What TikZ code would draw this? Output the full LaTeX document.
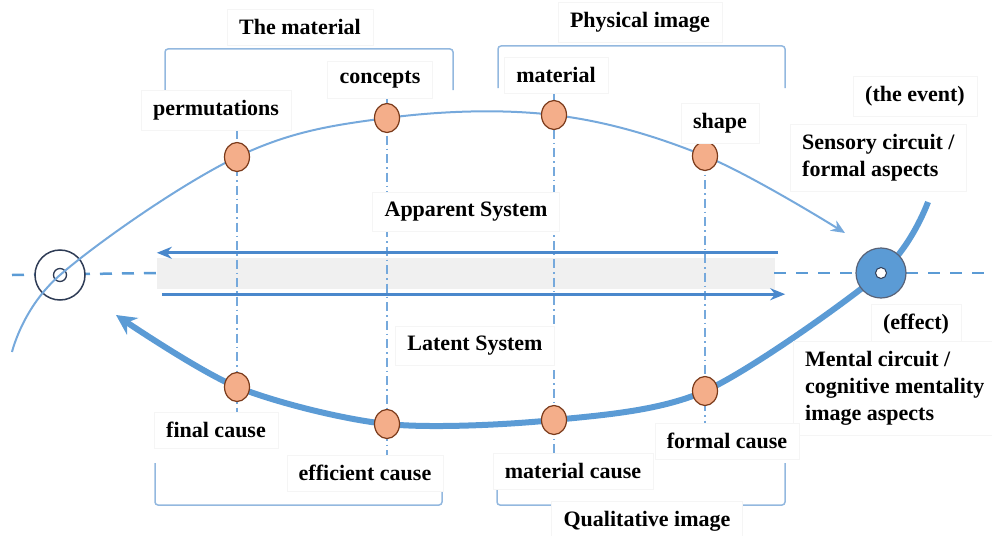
\documentclass[tikz,border=0pt]{standalone}
\usepackage{fontspec}
\setmainfont{Liberation Serif}
\usepackage{tikz}
\usetikzlibrary{calc,arrows.meta,shapes.geometric}
\usepackage{xcolor}

\definecolor{axisblue}{HTML}{5B9BD5}
\definecolor{arrowblue}{HTML}{4A88CC}
\definecolor{thinblue}{HTML}{76A9DC}
\definecolor{braceblue}{HTML}{93B8DF}
\definecolor{navy}{HTML}{2E3B55}
\definecolor{dotfill}{HTML}{F4AE8A}
\definecolor{dotline}{HTML}{7A3A1A}
\definecolor{barfill}{HTML}{F0F0F0}

\pgfdeclarelayer{bg}
\pgfsetlayers{bg,main}

\tikzset{
	lbl/.style={draw=black!4, fill=white, font=\bfseries\fontsize{22}{27}\selectfont, inner xsep=12pt, inner ysep=10pt},
	cause/.style={ellipse, draw=dotline, line width=1.2pt, fill=dotfill, minimum width=25pt, minimum height=29pt, inner sep=0pt},
	guide/.style={thinblue, line width=1.3pt, dash pattern=on 9pt off 4pt on 1.5pt off 4pt},
	brace/.style={braceblue, line width=1.5pt, rounded corners=3pt},
}

\begin{document}
\begin{tikzpicture}[x=1pt,y=-1pt]
	\useasboundingbox (0,0) rectangle (992,535);
	
	% points on the two circuits
	\node[cause] (t1) at (237,157) {};
	\node[cause] (t2) at (387,118) {};
	\node[cause] (t3) at (554,115) {};
	\node[cause] (t4) at (705,156) {};
	\node[cause] (b1) at (237,387) {};
	\node[cause] (b2) at (387,424) {};
	\node[cause] (b3) at (554,420) {};
	\node[cause] (b4) at (705,391) {};
	
	% the effect
	\node[circle, draw=navy!80, line width=1.2pt, fill=axisblue, minimum size=50pt, inner sep=0pt] (rcirc) at (881,273) {};
	\node[circle, draw=navy, line width=1pt, fill=white, minimum size=11pt, inner sep=0pt] (rdot) at (rcirc) {};
	
	% labels
	\node[lbl] (lmat) at (300,27) {The material};
	\node[lbl] (lphys) at (640,22) {Physical image};
	\node[lbl] (lperm) at (216,110) {permutations};
	\node[lbl] (lconc) at (380,80) {concepts};
	\node[lbl] (lmatl) at (556,75) {material};
	\node[lbl] (lshape) at (720,123) {shape};
	\node[lbl] (levent) at (915,96) {(the event)};
	\node[lbl, anchor=west, align=left] (lsens) at (790,158) {Sensory circuit /\\formal aspects};
	\node[lbl] (lapp) at (466,212) {Apparent System};
	\node[lbl] (llat) at (475,346) {Latent System};
	\node[lbl] (leff) at (916,324) {(effect)};
	\node[lbl, anchor=west, align=left] (lment) at (793,388) {Mental circuit /\\cognitive mentality\\image aspects};
	\node[lbl] (lfinal) at (216,430) {final cause};
	\node[lbl] (leffic) at (365,473) {efficient cause};
	\node[lbl] (lmc) at (573,471) {material cause};
	\node[lbl] (lform) at (727,441) {formal cause};
	\node[lbl] (lqual) at (647,521) {Qualitative image};
	
	\begin{pgfonlayer}{bg}
		% middle bar and axis
		\node[draw=black!6, fill=barfill, minimum width=617pt, minimum height=30pt, inner sep=0pt] (bar) at (465.5,273) {};
		\coordinate (axl) at (12,275);
		\coordinate (axr) at (990,273);
		\draw[axisblue, line width=2.5pt, dash pattern=on 12pt off 10pt] (axl) -- (bar.west);
		\draw[axisblue, line width=2.5pt, dash pattern=on 12pt off 10pt] (bar.east) -- (axr);
		
		% the event
		\node[circle, draw=navy, line width=1.5pt, fill=white, minimum size=50pt, inner sep=0pt] (lcirc) at (60,275) {};
		\node[circle, draw=navy, line width=1.3pt, fill=white, minimum size=13pt, inner sep=0pt] (ldot) at (lcirc) {};
		
		% vertical guides
		\draw[guide] (t1 |- lperm.south) -- (t1 |- lfinal.north);
		\draw[guide] (t2 |- lconc.south) -- (t2 |- leffic.north);
		\draw[guide] (t3 |- lmatl.south) -- (t3 |- lmc.north);
		\draw[guide] (t4 |- lshape.south) -- (t4 |- lform.north);
		
		% brackets
		\draw[brace] (165,90) -- (165,49) -- (453,49) -- (453,90);
		\draw[brace] (498,88) -- (498,46) -- (785,46) -- (785,88);
		\draw[brace] (155,463) -- (155,505) -- (442,505) -- (442,463);
		\draw[brace] (497,463) -- (497,505) -- (785,505) -- (785,463);
		
		% sensory circuit (upper)
		\coordinate (ts) at (12,352);
		\coordinate (te) at (845,233);
		\draw[thinblue, line width=2pt, -{Stealth[length=14pt,width=12pt]}] plot[smooth, tension=0.6] coordinates {(ts) (lcirc) (t1) (t2) (t3) (t4) (te)};
		
		% mental circuit (lower)
		\coordinate (bs) at (928,202);
		\coordinate (be) at (116,315);
		\draw[axisblue, line width=6pt, -{Stealth[length=20pt,width=20pt]}] plot[smooth, tension=0.5] coordinates {(bs) (rcirc) (b4) (b3) (b2) (b1) (be)};
		
		% system arrows
		\draw[arrowblue, line width=3pt, -{Stealth[length=15pt,width=12pt]}] ($(bar.north east)+(4,-5)$) -- ($(bar.north west)+(0,-5)$);
		\draw[arrowblue, line width=3pt, -{Stealth[length=15pt,width=12pt]}] ($(bar.south west)+(5,6)$) -- ($(bar.south east)+(11,6)$);
	\end{pgfonlayer}
\end{tikzpicture}
\end{document}
